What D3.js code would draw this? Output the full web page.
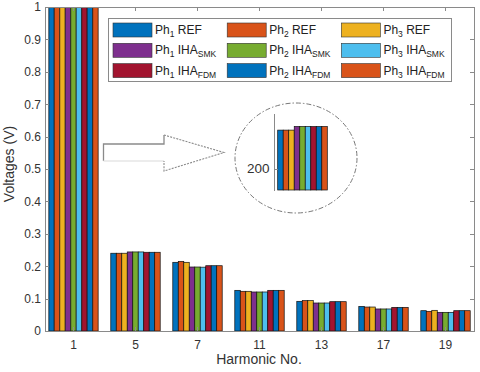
<meta charset="utf-8">
<style>
body { margin: 0; background: #fff; font-family: "Liberation Sans", Arial, sans-serif; }
.axis path, .axis line { stroke: #8a8a8a; stroke-width: 1; shape-rendering: crispEdges; }
.axis text { fill: #333; font-size: 12px; font-family: "Liberation Sans", Arial, sans-serif; }
</style>
<body>
<div id="chart"></div>
<script src="https://d3js.org/d3.v7.min.js"></script>
<script>
// harmonic orders on the x axis
var harmonics = ["1", "5", "7", "11", "13", "17", "19"];
var yTicks = [0, 0.1, 0.2, 0.3, 0.4, 0.5, 0.6, 0.7, 0.8, 0.9, 1];

// voltages per series (fundamental is far above the axis and clipped)
var ph1REF = [227.0, 0.240, 0.212, 0.1255, 0.0916, 0.076, 0.0627];
var ph2REF = [227.0, 0.240, 0.215, 0.1225, 0.0937, 0.074, 0.0607];
var ph3REF = [227.0, 0.240, 0.212, 0.1225, 0.0937, 0.074, 0.0638];
var ph1SMK = [229.5, 0.244, 0.1975, 0.1204, 0.0864, 0.068, 0.0576];
var ph2SMK = [229.5, 0.244, 0.1975, 0.1204, 0.0864, 0.068, 0.0576];
var ph3SMK = [229.5, 0.244, 0.1970, 0.1204, 0.0864, 0.068, 0.0576];
var ph1FDM = [229.5, 0.243, 0.2015, 0.1255, 0.0905, 0.073, 0.0627];
var ph2FDM = [229.5, 0.243, 0.2015, 0.1255, 0.0905, 0.073, 0.0627];
var ph3FDM = [229.5, 0.243, 0.2015, 0.1255, 0.0905, 0.073, 0.0627];

var series = [
  {ph: "1", name: "REF", sub: "", color: "#0072BD", values: ph1REF},
  {ph: "2", name: "REF", sub: "", color: "#D95319", values: ph2REF},
  {ph: "3", name: "REF", sub: "", color: "#EDB120", values: ph3REF},
  {ph: "1", name: "IHA", sub: "SMK", color: "#7E2F8E", values: ph1SMK},
  {ph: "2", name: "IHA", sub: "SMK", color: "#77AC30", values: ph2SMK},
  {ph: "3", name: "IHA", sub: "SMK", color: "#4DBEEE", values: ph3SMK},
  {ph: "1", name: "IHA", sub: "FDM", color: "#A2142F", values: ph1FDM},
  {ph: "2", name: "IHA", sub: "FDM", color: "#0072BD", values: ph2FDM},
  {ph: "3", name: "IHA", sub: "FDM", color: "#D95319", values: ph3FDM}
];

var width = 480, height = 372,
    plot = {left: 45, right: 474, top: 7, bottom: 331};

var svg = d3.select("#chart").append("svg")
    .attr("width", width).attr("height", height);

var x0 = d3.scaleBand().domain(harmonics).range([plot.left, plot.right])
    .paddingInner(0.203).paddingOuter(0.061);
var x1 = d3.scaleBand().domain(d3.range(series.length)).range([0, x0.bandwidth()]);
var y = d3.scaleLinear().domain([0, 1]).range([plot.bottom, plot.top]);

svg.append("clipPath").attr("id", "clip").append("rect")
    .attr("x", plot.left).attr("y", plot.top)
    .attr("width", plot.right - plot.left).attr("height", plot.bottom - plot.top);

var bars = svg.append("g").attr("clip-path", "url(#clip)");
harmonics.forEach(function(h, i) {
  bars.append("g")
    .attr("transform", "translate(" + x0(h) + ",0)")
    .selectAll("rect")
    .data(series)
    .enter().append("rect")
    .attr("x", function(d, j) { return x1(j); })
    .attr("y", function(d) { return y(d.values[i]); })
    .attr("width", x1.bandwidth())
    .attr("height", function(d) { return Math.max(0, y(0) - y(d.values[i])); })
    .attr("fill", function(d) { return d.color; })
    .attr("stroke", "#111")
    .attr("stroke-width", 0.7);
});

// axes, ticks pointing inward (box on)
svg.append("g").attr("class", "axis")
    .attr("transform", "translate(" + plot.left + ",0)")
    .call(d3.axisLeft(y).tickValues(yTicks).tickSize(-4).tickSizeOuter(0).tickPadding(4)
      .tickFormat(function(d) { return d === 0 || d === 1 ? d3.format("d")(d) : d3.format(".1f")(d); }));
svg.append("g").attr("class", "axis")
    .attr("transform", "translate(" + plot.right + ",0)")
    .call(d3.axisRight(y).tickValues(yTicks).tickSize(-4).tickSizeOuter(0).tickFormat(""));
svg.append("g").attr("class", "axis")
    .attr("transform", "translate(0," + plot.bottom + ")")
    .call(d3.axisBottom(x0).tickSize(-4).tickSizeOuter(0).tickPadding(9));
svg.append("g").attr("class", "axis")
    .attr("transform", "translate(0," + plot.top + ")")
    .call(d3.axisTop(x0).tickSize(-4).tickSizeOuter(0).tickFormat(""));

svg.append("text")
    .attr("transform", "translate(14,164) rotate(-90)")
    .attr("text-anchor", "middle")
    .attr("font-size", 14).attr("fill", "#333")
    .text("Voltages (V)");
svg.append("text")
    .attr("x", 259).attr("y", 364)
    .attr("text-anchor", "middle")
    .attr("font-size", 14).attr("fill", "#333")
    .text("Harmonic No.");

// legend, 3 columns x 3 rows
var legend = svg.append("g");
legend.append("rect")
    .attr("x", 108.5).attr("y", 18.5).attr("width", 343).attr("height", 63)
    .attr("fill", "#fff").attr("stroke", "#8a8a8a");
var item = legend.selectAll(".item").data(series).enter().append("g")
    .attr("transform", function(d, i) {
      return "translate(" + (113 + (i % 3) * 114.2) + "," + (23 + Math.floor(i / 3) * 20.3) + ")";
    });
item.append("rect")
    .attr("width", 39).attr("height", 14)
    .attr("fill", function(d) { return d.color; })
    .attr("stroke", "#333").attr("stroke-width", 0.6);
var label = item.append("text")
    .attr("x", 42).attr("y", 11)
    .attr("font-size", 12).attr("fill", "#222");
label.append("tspan").text("Ph");
label.append("tspan").attr("dy", 3).attr("font-size", 8.5).text(function(d) { return d.ph; });
label.append("tspan").attr("dy", -3).text(function(d) { return "\u00a0" + d.name; });
label.append("tspan").attr("dy", 3).attr("font-size", 8.5).text(function(d) { return d.sub; });

// outline arrow pointing to the zoom inset
var arrow = svg.append("g").attr("fill", "none").attr("stroke", "#8a8a8a").attr("stroke-width", 1.3);
arrow.append("path").attr("d", "M103.5,161 L103.5,144 L164,144 L164,135");
arrow.append("path").attr("d", "M103.5,161 L164,161").attr("stroke", "#e6e6e6");
arrow.append("path").attr("d", "M164,135 L224,152.5 L164,171 L164,161")
    .attr("stroke-dasharray", "2,1.2").attr("stroke-width", 1.1);

// zoomed inset of the fundamental
var inset = svg.append("g");
inset.append("ellipse")
    .attr("cx", 296).attr("cy", 158).attr("rx", 61).attr("ry", 55)
    .attr("fill", "none").attr("stroke", "#777").attr("stroke-width", 1)
    .attr("stroke-dasharray", "5,2,1.5,2");
var yIn = d3.scaleLinear().domain([185, 239]).range([190, 113]);
var xIn = d3.scaleBand().domain(d3.range(series.length)).range([277.7, 327.3]);
inset.selectAll("rect").data(series).enter().append("rect")
    .attr("x", function(d, j) { return xIn(j); })
    .attr("y", function(d) { return yIn(d.values[0]); })
    .attr("width", xIn.bandwidth())
    .attr("height", function(d) { return yIn(185) - yIn(d.values[0]); })
    .attr("fill", function(d) { return d.color; })
    .attr("stroke", "#111").attr("stroke-width", 0.7);
inset.append("g").attr("class", "axis")
    .attr("transform", "translate(273.5,0)")
    .call(d3.axisLeft(yIn).tickValues([200]).tickSize(-4).tickSizeOuter(0).tickPadding(4))
    .selectAll("text").style("font-size", "13.5px");
</script>
</body>
